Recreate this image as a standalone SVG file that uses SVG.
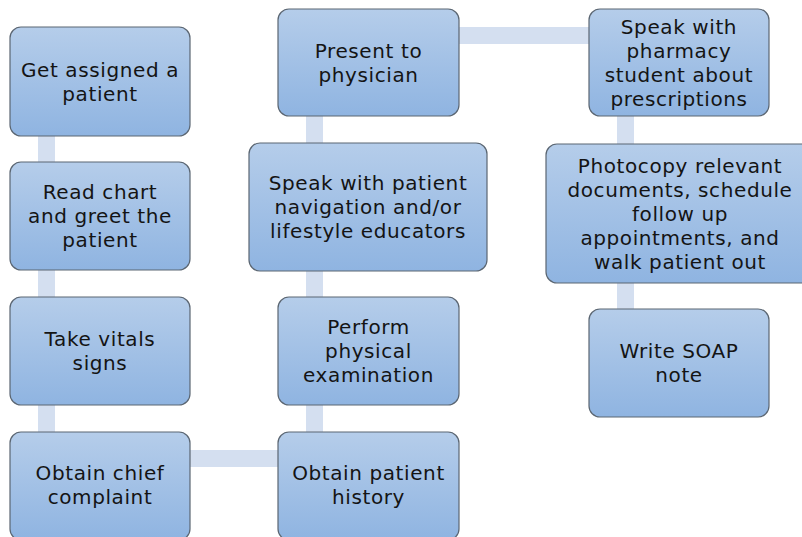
<svg xmlns="http://www.w3.org/2000/svg" width="802" height="537" viewBox="0 0 802 537">
<defs>
<linearGradient id="g" x1="0" y1="0" x2="0" y2="1">
<stop offset="0" stop-color="#b5cdea"/>
<stop offset="1" stop-color="#8fb4e1"/>
</linearGradient>
<style>
.box{fill:url(#g);stroke:#5b6672;stroke-width:1.2}
.t{font-family:"DejaVu Sans","Open Sans",sans-serif;font-size:20px;letter-spacing:0.6px;fill:#141414;text-anchor:middle}
.c{fill:#d4dff0}
</style>
</defs>
<rect width="802" height="537" fill="#fff"/>
<g id="connectors">
<rect class="c" x="38" y="130" width="17" height="40"/>
<rect class="c" x="38" y="265" width="17" height="40"/>
<rect class="c" x="38" y="400" width="17" height="40"/>
<rect class="c" x="185" y="450" width="98" height="17"/>
<rect class="c" x="306" y="400" width="17" height="40"/>
<rect class="c" x="306" y="265" width="17" height="40"/>
<rect class="c" x="306" y="110" width="17" height="40"/>
<rect class="c" x="455" y="27" width="138" height="17"/>
<rect class="c" x="617" y="110" width="17" height="40"/>
<rect class="c" x="617" y="278" width="17" height="36"/>
</g>
<g id="n1"><rect class="box" x="10" y="27" width="180" height="109" rx="11"/>
<text class="t" x="100" y="76.5">Get assigned a</text><text class="t" x="100" y="100.5">patient</text></g>
<g id="n2"><rect class="box" x="10" y="162" width="180" height="108" rx="11"/>
<text class="t" x="100" y="199">Read chart</text><text class="t" x="100" y="223">and greet the</text><text class="t" x="100" y="247">patient</text></g>
<g id="n3"><rect class="box" x="10" y="297" width="180" height="108" rx="11"/>
<text class="t" x="100" y="346">Take vitals</text><text class="t" x="100" y="370">signs</text></g>
<g id="n4"><rect class="box" x="10" y="432" width="180" height="108" rx="11"/>
<text class="t" x="100" y="480">Obtain chief</text><text class="t" x="100" y="504">complaint</text></g>
<g id="n5"><rect class="box" x="278" y="432" width="181" height="108" rx="11"/>
<text class="t" x="368.5" y="480">Obtain patient</text><text class="t" x="368.5" y="504">history</text></g>
<g id="n6"><rect class="box" x="278" y="297" width="181" height="108" rx="11"/>
<text class="t" x="368.5" y="334">Perform</text><text class="t" x="368.5" y="358">physical</text><text class="t" x="368.5" y="382">examination</text></g>
<g id="n7"><rect class="box" x="249" y="143" width="238" height="128" rx="11"/>
<text class="t" x="368" y="190">Speak with patient</text><text class="t" x="368" y="214">navigation and/or</text><text class="t" x="368" y="238">lifestyle educators</text></g>
<g id="n8"><rect class="box" x="278" y="9" width="181" height="107" rx="11"/>
<text class="t" x="368.5" y="58">Present to</text><text class="t" x="368.5" y="82">physician</text></g>
<g id="n9"><rect class="box" x="589" y="9" width="180" height="107" rx="11"/>
<text class="t" x="679" y="33.5">Speak with</text><text class="t" x="679" y="57.5">pharmacy</text><text class="t" x="679" y="81.5">student about</text><text class="t" x="679" y="105.5">prescriptions</text></g>
<g id="n10"><rect class="box" x="546" y="144" width="270" height="139" rx="11"/>
<text class="t" x="680" y="173">Photocopy relevant</text><text class="t" x="680" y="197">documents, schedule</text><text class="t" x="680" y="221">follow up</text><text class="t" x="680" y="245">appointments, and</text><text class="t" x="680" y="269">walk patient out</text></g>
<g id="n11"><rect class="box" x="589" y="309" width="180" height="108" rx="11"/>
<text class="t" x="679" y="358">Write SOAP</text><text class="t" x="679" y="382">note</text></g>
</svg>
